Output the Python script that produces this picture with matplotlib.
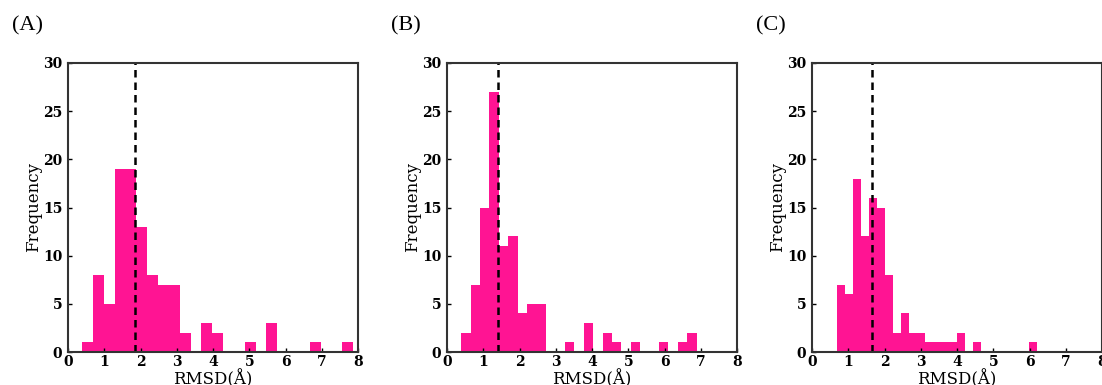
import matplotlib
matplotlib.use("Agg")
import matplotlib.pyplot as plt
import numpy as np

# histogram bins: start, width, counts (25 bins each)
starts = [0.39, 0.39, 0.69]
widths = [0.299, 0.26, 0.2208]
counts_a = [1, 8, 5, 19, 19, 13, 8, 7, 7, 2, 0, 3, 2, 0, 0, 1, 0, 3, 0, 0, 0, 1, 0, 0, 1]
counts_b = [2, 7, 15, 27, 11, 12, 4, 5, 5, 0, 0, 1, 0, 3, 0, 2, 1, 0, 1, 0, 0, 1, 0, 1, 2]
counts_c = [7, 6, 18, 12, 16, 15, 8, 2, 4, 2, 2, 1, 1, 1, 1, 2, 0, 1, 0, 0, 0, 0, 0, 0, 1]
means = [1.84, 1.40, 1.65]
panel_labels = ["(A)", "(B)", "(C)"]

pink = "#FF1493"
spine_col = "#333333"

plt.rcParams["font.family"] = ["DejaVu Serif"]
fig = plt.figure(figsize=(11.02, 3.85), dpi=100)

lefts = [68, 447, 812]
all_counts = [counts_a, counts_b, counts_c]

for i in range(3):
    ax = fig.add_axes([lefts[i] / 1102, 33 / 385, 290 / 1102, 289 / 385])
    counts = np.array(all_counts[i])
    edges = starts[i] + widths[i] * np.arange(len(counts) + 1)
    centers = (edges[:-1] + edges[1:]) / 2
    ax.hist(centers, bins=edges, weights=counts, color=pink, zorder=1)
    ax.axvline(means[i], color="black", linestyle=(0, (3, 2)), linewidth=1.8, zorder=2)

    ax.set_xlim(0, 8)
    ax.set_ylim(0, 30)
    ax.set_xticks(range(0, 9))
    ax.set_yticks(range(0, 31, 5))
    ax.tick_params(direction="in", length=3, width=1, labelsize=10, colors="black")
    ax.tick_params(axis="x", pad=2)
    ax.tick_params(axis="y", pad=4)
    for lab in ax.get_xticklabels() + ax.get_yticklabels():
        lab.set_fontweight("bold")
    for s in ax.spines.values():
        s.set_color(spine_col)
        s.set_linewidth(1.5)
    ax.set_ylabel("Frequency", fontsize=12, labelpad=1)
    ax.set_xlabel("RMSD(Å)", fontsize=12, labelpad=1)

    fig.text((lefts[i] - 56) / 1102, 1 - 26 / 385, panel_labels[i], fontsize=16,
             family="Liberation Serif", va="center", ha="left")

fig.savefig("out.png", dpi=100)
